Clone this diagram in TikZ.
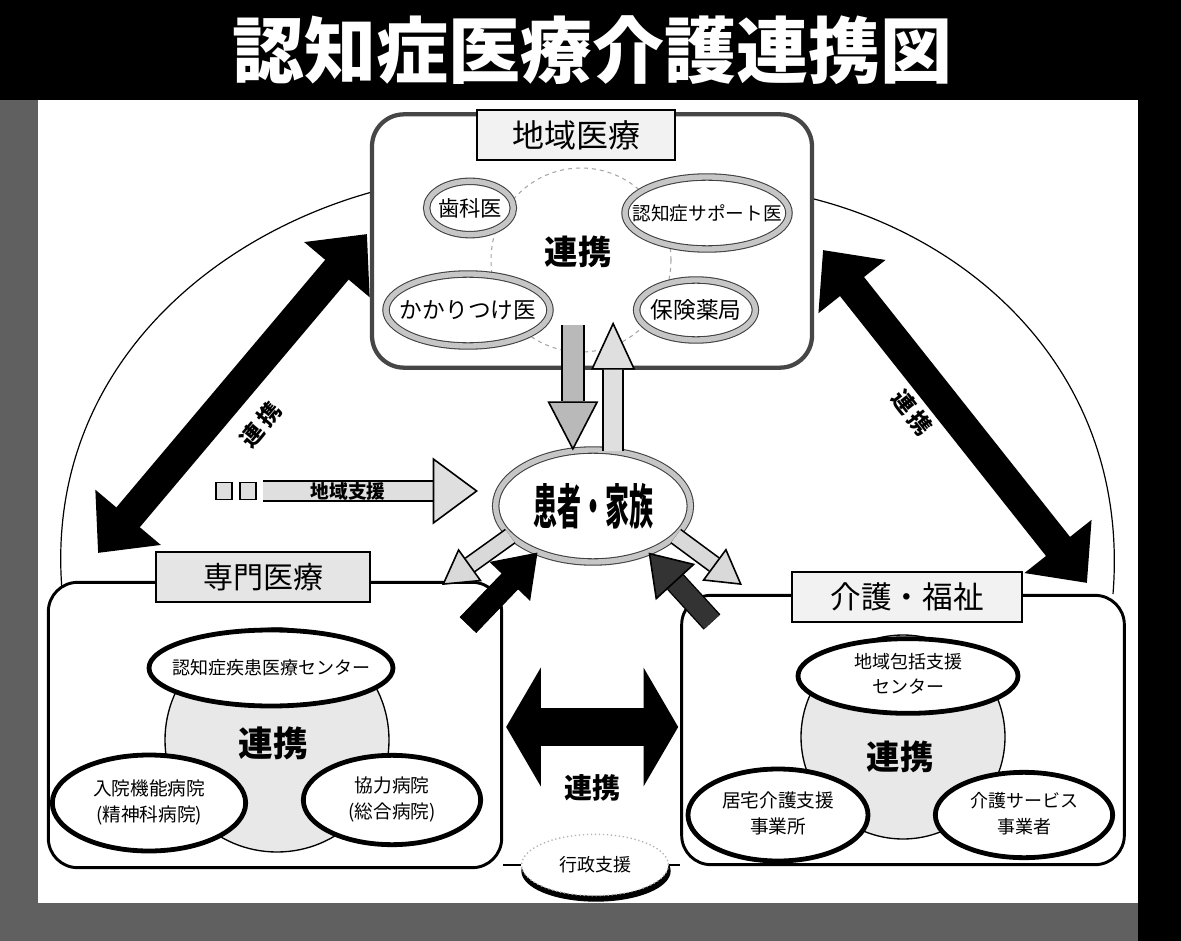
\documentclass[tikz,border=0pt]{standalone}
\usepackage{fontspec}
\newfontfamily\jp{Noto Sans CJK JP}
\newfontfamily\jpc{Noto Sans CJK JP}[FakeStretch=0.5]
\usetikzlibrary{arrows.meta,shapes.geometric,calc}
\newcommand\zw[1]{\makebox[0pt][c]{#1}}
\newcommand\zwtwo[2]{\makebox[0pt][c]{\begin{tabular}{@{}c@{}}#1\\#2\end{tabular}}}
\newcommand\fs[1]{\fontsize{#1}{#1}\selectfont}
\newcommand\fatarr[7]{%
  \draw[black, line width=#2, shorten >=#4, line cap=butt] #6 -- #7;
  \draw[#1, line width=#3, line cap=butt, arrows={-Triangle[length=#4, width=#5, color=black, fill=#1, line width=1.2pt]}] #6 -- #7;}
\begin{document}
\begin{tikzpicture}[x=0.75pt,y=-0.75pt,
  every node/.style={inner sep=0pt, align=center},
  boxA/.style={rectangle, rounded corners=24pt, draw=gray!55!black, line width=3.2pt, fill=white},
  boxB/.style={rectangle, rounded corners=22pt, draw=black, line width=2.2pt, fill=white},
  labelbox/.style={rectangle, draw=black, line width=1.4pt, fill=gray!10},
  ringell/.style={ellipse, fill=white, draw=black!75, double=gray!45, double distance=4pt, line width=0.8pt},
  thickell/.style={ellipse, fill=white, draw=black, line width=3.6pt},
  hubdash/.style={ellipse, draw=gray!70, dashed, line width=0.8pt, fill=white},
  hubgray/.style={circle, draw=black, line width=1pt, fill=gray!18},
  renkei/.style={font=\jp\bfseries\fs{25}},
  bigarrow/.style={line width=23pt, black, arrows={Triangle[length=35pt,width=62pt]-Triangle[length=35pt,width=62pt]}},
  outline/.style={black, line width=0.9pt},
]
\useasboundingbox (0,0) rectangle (1181,941);
% frame
\fill[gray!75!black] (0,0) rectangle (1181,941);
\fill[black] (0,0) rectangle (1181,100);
\fill[black] (1138,0) rectangle (1181,941);
\fill[white] (38,100) rectangle (1138,903);
\node[text=white, font=\jp\bfseries\fs{54}] (title) at (592,50) {認知症医療介護連携図};

% outer curve
\coordinate (oc1) at (62,590);
\coordinate (oc2) at (372,192);
\coordinate (oc3) at (810,198);
\coordinate (oc4) at (1113,594);
\draw[outline] (oc1) .. controls (45,380) and (200,240) .. (oc2);
\draw[outline] (oc3) .. controls (980,240) and (1130,380) .. (oc4);

% top box
\node[boxA, minimum width=330pt, minimum height=190pt] (chiiki) at (592,241) {};
\node[hubdash, minimum width=135pt, minimum height=138pt] (hub1) at (581,260) {};
\node[labelbox, minimum width=148pt, minimum height=37pt, font=\jp\fs{24}] (chiikilab) at (576,135) {地域医療};
\node[ringell, minimum width=65pt, minimum height=40pt, font=\jp\fs{16}] (shika) at (470,208) {\zw{歯科医}};
\node[ringell, minimum width=123pt, minimum height=54pt, font=\jp\fs{14}] (support) at (707,213) {\zw{認知症サポート医}};
\node[ringell, minimum width=123pt, minimum height=54pt, font=\jp\fs{17}] (kakari) at (468,310) {\zw{かかりつけ医}};
\node[ringell, minimum width=89pt, minimum height=45pt, font=\jp\fs{17}] (yakkyoku) at (696,310) {\zw{保険薬局}};
\node[renkei] (renkei1) at (578,252) {連携};

% bottom left box
\node[boxB, minimum width=340pt, minimum height=214pt] (senbox) at (275,725) {};
\node[labelbox, fill=gray!20, minimum width=160pt, minimum height=38pt, font=\jp\fs{22.5}] (senlab) at (263,577) {専門医療};
\node[hubgray, minimum size=168pt] (hub2) at (277,740) {};
\node[thickell, minimum width=183pt, minimum height=57pt, font=\jp\fs{13.5}] (center1) at (271,668) {\zw{認知症疾患医療センター}};
\node[thickell, minimum width=145pt, minimum height=72pt, font=\jp\fontsize{14}{20}\selectfont] (nyuin) at (149,803) {\zwtwo{入院機能病院}{(精神科病院)}};
\node[thickell, minimum width=133pt, minimum height=67pt, font=\jp\fontsize{14}{20}\selectfont] (kyoryoku) at (392,800) {\zwtwo{協力病院}{(総合病院)}};
\node[renkei, font=\jp\bfseries\fs{26}] (renkei2) at (273,743) {連携};

% bottom right box
\node[boxB, minimum width=332pt, minimum height=202pt] (kaibox) at (903,730) {};
\node[labelbox, fill=gray!10, minimum width=173pt, minimum height=38pt, font=\jp\fs{23}] (kailab) at (907,597) {介護・福祉};
\node[hubgray, minimum size=153pt] (hub3) at (903,737) {};
\node[thickell, minimum width=165pt, minimum height=56pt, font=\jp\fontsize{13.5}{19}\selectfont] (houkatsu) at (908,676) {\zwtwo{地域包括支援}{センター}};
\node[thickell, minimum width=135pt, minimum height=69pt, font=\jp\fontsize{14}{20}\selectfont] (kyotaku) at (778,815) {\zwtwo{居宅介護支援}{事業所}};
\node[thickell, minimum width=133pt, minimum height=64pt, font=\jp\fontsize{13.5}{20}\selectfont] (service) at (1024,815) {\zwtwo{介護サービス}{事業者}};
\node[renkei] (renkei3) at (900,757) {連携};

% big diagonal arrows
\coordinate (la1) at (98,553);
\coordinate (la2) at (367,234);
\draw[bigarrow] (la1) -- (la2);
\coordinate (ra1) at (823,250);
\coordinate (ra2) at (1087,583);
\draw[bigarrow] (ra1) -- (ra2);
\node[rotate=50, font=\jp\bfseries\fs{17}] (renkeiL) at (261,425) {連\hspace{3pt}携};
\node[rotate=-52, font=\jp\bfseries\fs{17}] (renkeiR) at (912,413) {連\hspace{3pt}携};

% bottom horizontal arrow
\draw[line width=28pt, black, arrows={Triangle[length=26pt,width=88pt]-Triangle[length=26pt,width=88pt]}] ($(senbox.east)+(3,2)$) -- ($(kaibox.west)+(-2,-3)$);
\node[renkei, font=\jp\bfseries\fs{21}] (renkei4) at (592,788) {連携};

% administrative support
\node[ellipse, fill=black, minimum width=112pt, minimum height=46pt] (gshadow) at (596,871) {};
\node[ellipse, fill=white, draw=gray!60, dotted, line width=1pt, minimum width=110pt, minimum height=46pt, font=\jp\fs{13.5}] (gyosei) at (595,865) {\zw{行政支援}};
\draw[outline] (gyosei.west) -- (gyosei.west -| senbox.east);
\draw[outline] (gyosei.east) -- (gyosei.east -| kaibox.west);

% patient
\node[ringell, minimum width=146pt, minimum height=84pt] (kanja) at (593,506) {\zw{\jpc\bfseries\fs{36}患者・家族}};

% vertical arrows
\fatarr{gray!55}{17.5pt}{15pt}{37pt}{38pt}{($(kanja.110)+(0,-126)$)}{(kanja.110)}
\fatarr{gray!25}{16pt}{13.5pt}{36pt}{33pt}{(kanja.70)}{($(kanja.70)+(0,-129)$)}

% regional support arrow
\coordinate (sh1) at (263,491);
\coordinate (sh2) at (478,491);
\fatarr{gray!25}{16pt}{13.5pt}{34pt}{50pt}{(sh1)}{(sh2)}
\node[font=\jp\bfseries\fs{14}] (shientext) at (348,491) {地域支援};
\node[rectangle, draw=black, fill=gray!25, line width=1pt, minimum width=12pt, minimum height=13pt] (sq1) at (224,491) {};
\node[rectangle, draw=black, fill=gray!25, line width=1pt, minimum width=12pt, minimum height=13pt] (sq2) at (248,491) {};

% arrows around the patient
\coordinate (goL) at (442,585);
\fatarr{gray!30}{13.5pt}{11pt}{26pt}{30pt}{(kanja.200)}{(goL)}
\coordinate (inL) at (468,625);
\fatarr{black}{17pt}{17pt}{30pt}{42pt}{(inL)}{(kanja.220)}
\coordinate (inR) at (712,622);
\fatarr{gray!40!black}{17pt}{15pt}{30pt}{40pt}{(inR)}{(kanja.320)}
\coordinate (goR) at (742,585);
\fatarr{gray!30}{13.5pt}{11pt}{26pt}{30pt}{(kanja.340)}{(goR)}
\end{tikzpicture}
\end{document}
